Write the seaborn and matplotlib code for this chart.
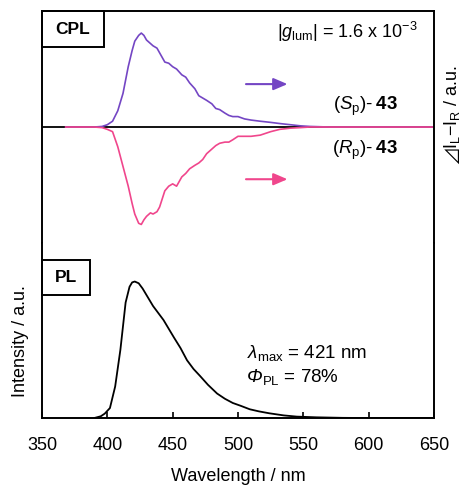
import numpy as np
import matplotlib
matplotlib.use("Agg")
import matplotlib.pyplot as plt
import seaborn as sns
import pandas as pd
from matplotlib.patches import Rectangle

# CPL data (arbitrary units, normalised)
cpl_wl = [368, 380, 390, 396, 400, 404, 408, 412, 416, 419, 421, 424, 426, 428,
          430, 433, 435, 438, 440, 442, 444, 447, 450, 453, 457, 460, 463, 467,
          470, 473, 476, 480, 483, 486, 490, 493, 496, 500, 505, 510, 517, 525,
          532, 540, 548, 555, 570, 600, 630, 650]
cpl_sp = [0, 0, 0, 0.005, 0.02, 0.05, 0.14, 0.29, 0.52, 0.66, 0.74, 0.79, 0.81, 0.79,
          0.75, 0.72, 0.70, 0.68, 0.64, 0.60, 0.56, 0.55, 0.52, 0.50, 0.45, 0.43, 0.38, 0.33,
          0.27, 0.25, 0.23, 0.20, 0.16, 0.15, 0.12, 0.10, 0.09, 0.09, 0.07, 0.06, 0.05, 0.04,
          0.03, 0.02, 0.01, 0.005, 0, 0, 0, 0]
cpl_rp = [0, 0, 0, -0.005, -0.02, -0.04, -0.17, -0.34, -0.51, -0.66, -0.75, -0.83, -0.84, -0.80,
          -0.77, -0.74, -0.75, -0.73, -0.69, -0.62, -0.55, -0.51, -0.49, -0.51, -0.43, -0.40, -0.36, -0.33,
          -0.31, -0.28, -0.23, -0.19, -0.16, -0.14, -0.13, -0.13, -0.11, -0.08, -0.08, -0.08, -0.07, -0.04,
          -0.02, -0.01, -0.005, 0, 0, 0, 0, 0]

# PL data
pl_wl = [390, 395, 398, 402, 406, 410, 414, 417, 419, 421, 424, 427, 431, 435, 439,
         443, 447, 451, 456, 461, 466, 471, 477, 484, 490, 496, 502, 509, 516, 524,
         535, 545, 560, 580, 600, 650]
pl_int = [0, 0.01, 0.025, 0.057, 0.18, 0.39, 0.66, 0.75, 0.775, 0.78, 0.77, 0.74, 0.69, 0.64, 0.60,
          0.56, 0.51, 0.46, 0.40, 0.33, 0.28, 0.24, 0.19, 0.14, 0.11, 0.086, 0.07, 0.05, 0.038, 0.027,
          0.015, 0.008, 0.004, 0.001, 0, 0]

purple = "#7446c4"
pink = "#f0468c"

sns.set_theme(style="white")
plt.rcParams['font.family'] = ['Liberation Sans', 'DejaVu Sans']
plt.rcParams['mathtext.fontset'] = 'custom'
plt.rcParams['mathtext.rm'] = 'Liberation Sans'
plt.rcParams['mathtext.it'] = 'Liberation Sans:italic'
plt.rcParams['mathtext.bf'] = 'Liberation Sans:bold'
plt.rcParams['mathtext.fallback'] = 'stixsans'
for k in ['text.color', 'axes.labelcolor', 'xtick.color', 'ytick.color', 'axes.edgecolor']:
    plt.rcParams[k] = 'black'

fig = plt.figure(figsize=(4.65, 4.88), dpi=100)
ax1 = fig.add_axes([0.0903, 0.502, 0.843, 0.4754])
ax2 = fig.add_axes([0.0903, 0.1434, 0.843, 0.3586])

df_cpl = pd.DataFrame({'wl': cpl_wl, 'sp': cpl_sp, 'rp': cpl_rp})
df_pl = pd.DataFrame({'wl': pl_wl, 'pl': pl_int})

sns.lineplot(data=df_cpl, x='wl', y='sp', color=purple, lw=1.2, ax=ax1)
sns.lineplot(data=df_cpl, x='wl', y='rp', color=pink, lw=1.2, ax=ax1)
ax1.axhline(0, color='black', lw=1.3, zorder=1)
sns.lineplot(data=df_pl, x='wl', y='pl', color='black', lw=1.3, ax=ax2)

for ax in (ax1, ax2):
    ax.set_xlim(350, 650)
    for s in ax.spines.values():
        s.set_color('black')
        s.set_linewidth(1.4)
    ax.set_yticks([])

ax1.set_ylim(-1, 1)
ax2.set_ylim(0, 1)
ax1.spines['bottom'].set_visible(False)
ax2.spines['top'].set_visible(False)
ax1.set_xticks([])
ax1.set_xlabel('')

ax2.set_xticks([350, 400, 450, 500, 550, 600, 650])
ax2.tick_params(axis='x', direction='in', length=4, width=1.2, color='black',
                labelsize=13, pad=14, bottom=True)
ax2.set_xlabel('Wavelength / nm', fontsize=13, labelpad=10)
ax2.set_ylabel('Intensity / a.u.', fontsize=13)
ax2.yaxis.set_label_coords(-0.033, 0.44)

ax1.yaxis.set_label_position('right')
ax1.set_ylabel('$\u22bf$I$_{\\rm L}$\u2212I$_{\\rm R}$ / a.u.', fontsize=13, rotation=90)
ax1.yaxis.set_label_coords(1.021, 0.55)

# label boxes
ax1.add_patch(Rectangle((0, 1 - 0.155), 0.158, 0.155, transform=ax1.transAxes,
                        fill=False, lw=1.4, ec='black', clip_on=False))
ax1.text(0.079, 1 - 0.0776, 'CPL', transform=ax1.transAxes, ha='center', va='center',
         fontsize=12.5, fontweight='bold')
ax2.add_patch(Rectangle((0, 0.703), 0.122, 0.2, transform=ax2.transAxes,
                        fill=False, lw=1.4, ec='black', clip_on=False))
ax2.text(0.061, 0.803, 'PL', transform=ax2.transAxes, ha='center', va='center',
         fontsize=12.5, fontweight='bold')

ax1.text(0.959, 0.909, '|$g_{\\rm lum}$| = 1.6 x 10$^{\u22123}$', transform=ax1.transAxes,
         ha='right', va='center', fontsize=13)
ax1.text(0.908, 0.59, '($S_{\\rm p}$)-\u2009$\\mathbf{43}$', transform=ax1.transAxes,
         ha='right', va='center', fontsize=13.5)
ax1.text(0.908, 0.40, '($R_{\\rm p}$)-\u2009$\\mathbf{43}$', transform=ax1.transAxes,
         ha='right', va='center', fontsize=13.5)

ax1.annotate('', xy=(540, 0.37), xytext=(504, 0.37),
             arrowprops=dict(arrowstyle='-|>,head_length=0.7,head_width=0.3', color=purple, lw=1.5))
ax1.annotate('', xy=(540, -0.45), xytext=(504, -0.45),
             arrowprops=dict(arrowstyle='-|>,head_length=0.7,head_width=0.3', color=pink, lw=1.5))

ax2.text(0.523, 0.371, '$\\lambda_{\\rm max}$ = 421 nm', transform=ax2.transAxes,
         ha='left', va='center', fontsize=13.5)
# italic Phi drawn as plain text, rest follows on same baseline
ax2.text(0.523, 0.205, '\u03a6', transform=ax2.transAxes, style='italic',
         ha='left', va='baseline', fontsize=13.5)
ax2.annotate('$_{\\rm PL}$ = 78%', xy=(0.523, 0.205), xycoords='axes fraction',
             xytext=(10.8, 0), textcoords='offset points',
             ha='left', va='baseline', fontsize=13.5)

fig.savefig('out.png', dpi=100)
